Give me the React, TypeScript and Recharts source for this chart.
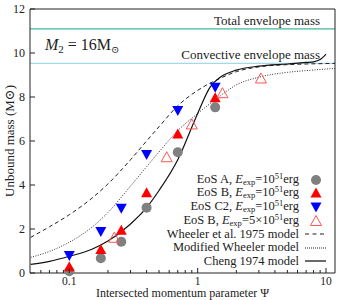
import { ComposedChart, Line, Scatter, XAxis, YAxis, ReferenceLine, Label, Legend } from 'recharts';

const FONT = "'Liberation Serif', 'DejaVu Serif', serif";
const INK = '#222';

// axis ticks
const psiMajor = [0.1, 1, 10];
const psiTicks = [0.06, 0.07, 0.08, 0.09, 0.1, 0.2, 0.3, 0.4, 0.5, 0.6, 0.7, 0.8, 0.9, 1, 2, 3, 4, 5, 6, 7, 8, 9, 10];
const massTicks = [0, 2, 4, 6, 8, 10, 12];

// envelope masses (Msun)
const totalEnvelope = 11.1;
const convectiveEnvelope = 9.53;

// simulation results
const simPsi = [0.1, 0.176, 0.254, 0.4, 0.7, 1.37];
const eosA = [0.08, 0.67, 1.42, 2.97, 5.49, 7.53];
const eosB = [0.26, 1.05, 1.92, 3.62, 6.3, 7.94];
const eosC2 = [0.82, 1.91, 2.97, 5.41, 7.41, 8.47];
const eosB5Psi = [0.224, 0.574, 0.9, 1.56, 3.11];
const eosB5 = [1.58, 5.24, 6.73, 8.15, 8.82];

// analytic models
const modelPsi = [0.05, 0.07, 0.1, 0.15, 0.2, 0.3, 0.4, 0.5, 0.7, 1, 1.5, 2, 3, 5, 7, 10, 12];
const wheeler = [1.62, 2.1, 2.65, 3.4, 4.05, 5.15, 6.0, 6.65, 7.6, 8.3, 8.85, 9.15, 9.37, 9.47, 9.5, 9.52, 9.53];
const modWheeler = [0.71, 0.98, 1.4, 2.08, 2.75, 3.95, 4.83, 5.5, 6.47, 7.25, 8.05, 8.55, 8.9, 9.12, 9.2, 9.27, 9.3];
const chengPsi = [0.05, 0.07, 0.1, 0.15, 0.2, 0.3, 0.4, 0.5, 0.7, 1, 1.25, 1.5, 2, 3, 5, 7, 8, 9, 10];
const cheng = [0.39, 0.53, 0.76, 1.08, 1.45, 2.23, 2.97, 3.75, 5.15, 7.25, 8.45, 8.9, 9.22, 9.4, 9.5, 9.57, 9.6, 9.7, 9.95];

const pts = (xs: number[], ys: number[]) => xs.map((x, i) => ({ x, y: ys[i] }));

const Circle = ({ cx, cy }: any) => <circle cx={cx} cy={cy} r={5} fill="#808080" />;
const TriUp = ({ cx, cy, open }: any) => (
  <path
    d={`M${cx},${cy - 6}L${cx - 5.5},${cy + 4}L${cx + 5.5},${cy + 4}Z`}
    fill={open ? 'none' : '#ff0000'}
    stroke={open ? '#ff5555' : 'none'}
    strokeWidth={1}
  />
);
const TriDown = ({ cx, cy }: any) => (
  <path d={`M${cx},${cy + 6}L${cx - 5.5},${cy - 4}L${cx + 5.5},${cy - 4}Z`} fill="#0000ff" />
);

const BottomTick = ({ x, y, payload }: any) => {
  const major = psiMajor.includes(payload.value);
  return (
    <g>
      <line x1={x} x2={x} y1={y} y2={y - (major ? 5 : 3)} stroke={INK} />
      {major && (
        <text x={x} y={y + 11.5} textAnchor="middle" fontSize={11.5} fontFamily={FONT} fill={INK}>
          {payload.value}
        </text>
      )}
    </g>
  );
};
const TopTick = ({ x, y, payload }: any) => {
  const major = psiMajor.includes(payload.value);
  return <line x1={x} x2={x} y1={y} y2={y + (major ? 5 : 3)} stroke={INK} />;
};
const LeftTick = ({ x, y, payload }: any) => (
  <g>
    <line x1={x} x2={x + 5} y1={y} y2={y} stroke={INK} />
    <text x={x - 5} y={y + 4} textAnchor="end" fontSize={12} fontFamily={FONT} fill={INK}>
      {payload.value}
    </text>
  </g>
);
const RightTick = ({ x, y }: any) => <line x1={x} x2={x - 5} y1={y} y2={y} stroke={INK} />;

const totalLabel = ({ viewBox }: any) => (
  <g fontSize={13} fill={INK} fontFamily={FONT}>
    <text x={viewBox.x + viewBox.width - 15} y={viewBox.y - 4} textAnchor="end">
      Total envelope mass
    </text>
    <text x={viewBox.x + 15} y={viewBox.y + 21} fontSize={16}>
      <tspan fontStyle="italic">M</tspan>
      <tspan dy={3} fontSize={11}>2</tspan>
      <tspan dy={-3}> = 16M</tspan>
      <tspan dy={3} fontSize={10}>⊙</tspan>
    </text>
  </g>
);
const convectiveLabel = ({ viewBox }: any) => (
  <text x={viewBox.x + viewBox.width - 15} y={viewBox.y - 4} textAnchor="end" fontSize={13} fontFamily={FONT} fill={INK}>
    Convective envelope mass
  </text>
);

const legendRows = [
  { eos: 'EoS A', factor: '', marker: 'circle' },
  { eos: 'EoS B', factor: '', marker: 'up' },
  { eos: 'EoS C2', factor: '', marker: 'down' },
  { eos: 'EoS B', factor: '5×', marker: 'open' },
  { text: 'Wheeler et al. 1975 model', marker: 'dash' },
  { text: 'Modified Wheeler model', marker: 'dot' },
  { text: 'Cheng 1974 model', marker: 'solid' },
];

const LegendMarker = ({ kind }: { kind: string }) => {
  const cx = 13;
  const cy = 7;
  if (kind === 'circle') return <Circle cx={cx} cy={cy} />;
  if (kind === 'up') return <TriUp cx={cx} cy={cy + 0.5} />;
  if (kind === 'down') return <TriDown cx={cx} cy={cy - 0.5} />;
  if (kind === 'open') return <TriUp cx={cx} cy={cy + 0.5} open />;
  const dash = kind === 'dash' ? '4 3.5' : kind === 'dot' ? '1 1' : undefined;
  return (
    <line x1={2} x2={23} y1={cy} y2={cy} stroke={kind === 'solid' ? '#444' : INK} strokeWidth={kind === 'solid' ? 1.6 : 1} strokeDasharray={dash} />
  );
};

const renderLegend = () => (
  <div style={{ fontFamily: FONT, fontSize: 12.5, color: INK }}>
    {legendRows.map((r, i) => (
      <div key={i} style={{ display: 'flex', justifyContent: 'flex-end', alignItems: 'center', height: 13.6, lineHeight: '13px', whiteSpace: 'nowrap' }}>
        <span>
          {r.text ?? (
            <>
              {r.eos}, <i>E</i>
              <span style={{ fontSize: 8.5, position: 'relative', top: 2 }}>exp</span>={r.factor}10
              <span style={{ fontSize: 8.5, position: 'relative', top: -4 }}>51</span>erg
            </>
          )}
        </span>
        <svg width={26} height={14} style={{ marginLeft: 4, display: 'block' }}>
          <LegendMarker kind={r.marker} />
        </svg>
      </div>
    ))}
  </div>
);

export default function App() {
  return (
    <div style={{ position: 'absolute', left: 0, top: 0, width: 350, height: 300, fontFamily: FONT, background: '#fff' }}>
      <ComposedChart width={350} height={300} margin={{ top: 0, right: 0, bottom: 0, left: 0 }} style={{ fontFamily: FONT }}>
        <XAxis
          xAxisId="b"
          dataKey="x"
          type="number"
          scale="log"
          domain={[0.0494, 11.75]}
          allowDataOverflow
          ticks={psiTicks}
          interval={0}
          tickSize={0}
          tickMargin={0}
          tickLine={false}
          tick={(p: any) => <BottomTick {...p} />}
          height={27}
          stroke={INK}
        >
          <Label value="Intersected momentum parameter Ψ" position="insideBottom" offset={3} fontSize={12} fontFamily={FONT} fill={INK} />
        </XAxis>
        <XAxis
          xAxisId="t"
          orientation="top"
          type="number"
          scale="log"
          domain={[0.0494, 11.75]}
          allowDataOverflow
          ticks={psiTicks}
          interval={0}
          tickSize={0}
          tickMargin={0}
          tickLine={false}
          tick={(p: any) => <TopTick {...p} />}
          height={9}
          stroke={INK}
        />
        <YAxis
          yAxisId="l"
          dataKey="y"
          type="number"
          domain={[0, 12]}
          ticks={massTicks}
          interval={0}
          tickSize={0}
          tickMargin={0}
          tickLine={false}
          tick={(p: any) => <LeftTick {...p} />}
          width={30}
          stroke={INK}
        >
          <Label value="Unbound mass (M⊙)" angle={-90} position="insideLeft" offset={9} fontSize={13} fontFamily={FONT} fill={INK} style={{ textAnchor: 'middle' }} />
        </YAxis>
        <YAxis
          yAxisId="r"
          orientation="right"
          type="number"
          domain={[0, 12]}
          ticks={massTicks}
          interval={0}
          tickSize={0}
          tickMargin={0}
          tickLine={false}
          tick={(p: any) => <RightTick {...p} />}
          width={15}
          stroke={INK}
        />
        <ReferenceLine xAxisId="b" yAxisId="l" y={totalEnvelope} stroke="#40b89c" strokeWidth={1.2} label={totalLabel} />
        <ReferenceLine xAxisId="b" yAxisId="l" y={convectiveEnvelope} stroke="#a6d8ec" strokeWidth={1.2} label={convectiveLabel} />
        <Line xAxisId="b" yAxisId="l" data={pts(modelPsi, wheeler)} dataKey="y" type="monotone" stroke={INK} strokeWidth={1} strokeDasharray="4 3" dot={false} activeDot={false} isAnimationActive={false} />
        <Line xAxisId="b" yAxisId="l" data={pts(modelPsi, modWheeler)} dataKey="y" type="monotone" stroke="#333" strokeWidth={1} strokeDasharray="1 1.5" dot={false} activeDot={false} isAnimationActive={false} />
        <Line xAxisId="b" yAxisId="l" data={pts(chengPsi, cheng)} dataKey="y" type="monotone" stroke="#111" strokeWidth={1.2} dot={false} activeDot={false} isAnimationActive={false} />
        <Scatter xAxisId="b" yAxisId="l" data={pts(simPsi, eosA)} shape={(p: any) => <Circle cx={p.cx} cy={p.cy} />} isAnimationActive={false} />
        <Scatter xAxisId="b" yAxisId="l" data={pts(simPsi, eosB)} shape={(p: any) => <TriUp cx={p.cx} cy={p.cy} />} isAnimationActive={false} />
        <Scatter xAxisId="b" yAxisId="l" data={pts(simPsi, eosC2)} shape={(p: any) => <TriDown cx={p.cx} cy={p.cy} />} isAnimationActive={false} />
        <Scatter xAxisId="b" yAxisId="l" data={pts(eosB5Psi, eosB5)} shape={(p: any) => <TriUp cx={p.cx} cy={p.cy} open />} isAnimationActive={false} />
        <Legend layout="vertical" align="center" verticalAlign="middle" content={renderLegend} wrapperStyle={{ left: 129, top: 173, width: 200 }} />
      </ComposedChart>
    </div>
  );
}
